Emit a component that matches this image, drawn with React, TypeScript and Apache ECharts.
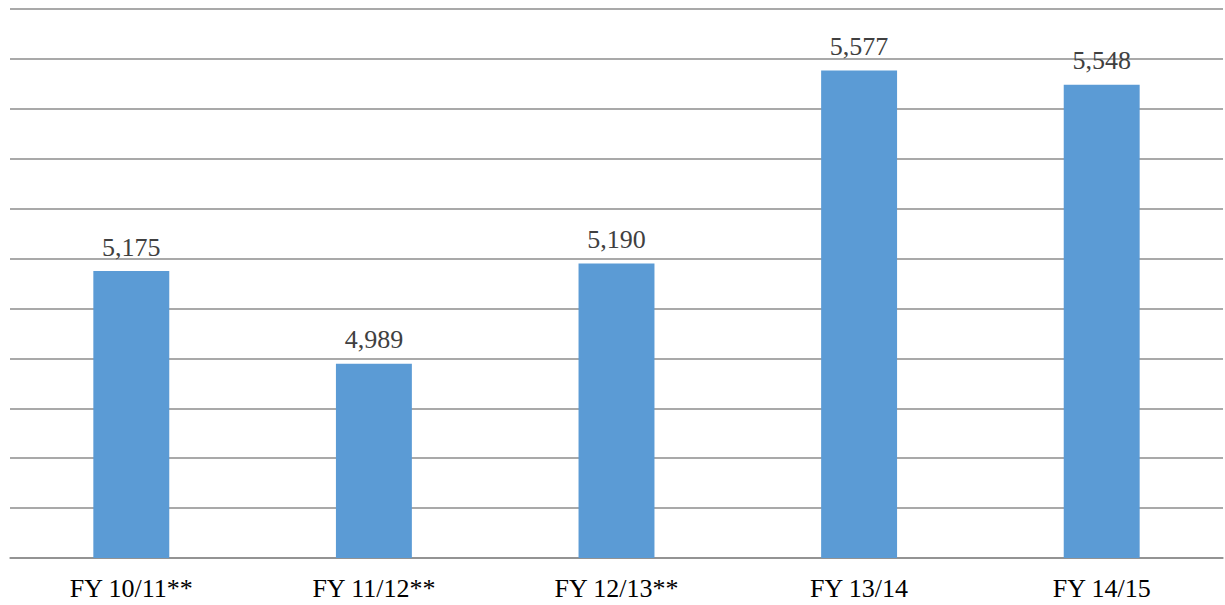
import React, { useEffect, useRef } from "react";
import * as echarts from "echarts";

const categories = ["FY 10/11**", "FY 11/12**", "FY 12/13**", "FY 13/14", "FY 14/15"];
const values = [5175, 4989, 5190, 5577, 5548];
const yMin = 4600;
const yMax = 5700;
const yStep = 100;

const serif = "'Liberation Serif', 'Times New Roman', 'DejaVu Serif', serif";

export default function App() {
  const ref = useRef<HTMLDivElement>(null);
  useEffect(() => {
    const chart = echarts.init(ref.current!, null, { renderer: "svg" });
    chart.setOption({
      animation: false,
      grid: { left: 10, right: 2, top: 9, bottom: 47, containLabel: false },
      xAxis: {
        type: "category",
        data: categories,
        axisLine: { lineStyle: { color: "#8c8c8c", width: 1.5 } },
        axisTick: { show: false },
        axisLabel: {
          color: "#000",
          fontFamily: serif,
          fontSize: 26,
          margin: 17,
        },
      },
      yAxis: {
        type: "value",
        min: yMin,
        max: yMax,
        interval: yStep,
        axisLabel: { show: false },
        axisLine: { show: false },
        axisTick: { show: false },
        splitLine: { lineStyle: { color: "#8c8c8c", width: 1.5 } },
      },
      series: [
        {
          type: "bar",
          data: values,
          barWidth: "31.3%",
          itemStyle: { color: "#5b9bd5" },
          label: {
            show: true,
            position: "top",
            distance: 11,
            color: "#404040",
            fontFamily: serif,
            fontSize: 26,
            formatter: (p: any) => p.value.toLocaleString("en-US"),
          },
        },
      ],
    });
    return () => chart.dispose();
  }, []);
  return (
    <div
      ref={ref}
      style={{ position: "fixed", left: 0, top: 0, width: 1225, height: 605, background: "#fff" }}
    />
  );
}
